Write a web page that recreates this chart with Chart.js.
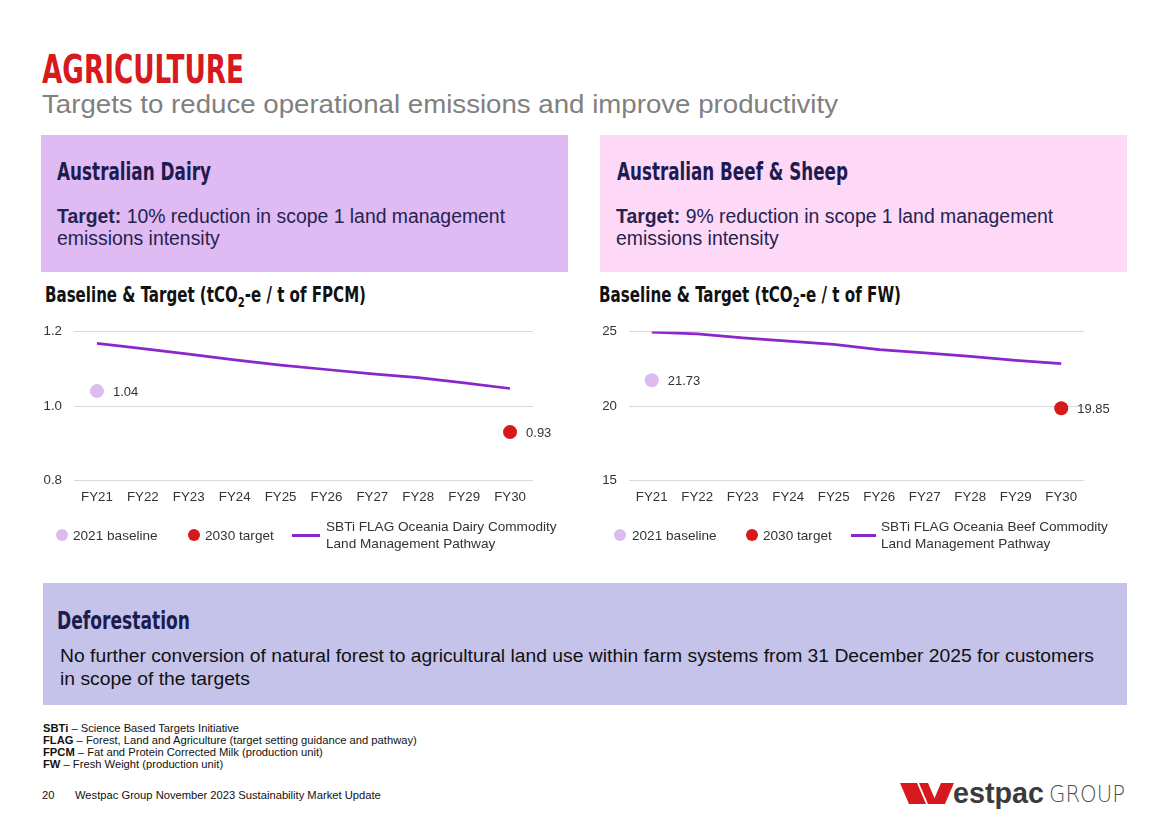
<!DOCTYPE html>
<html>
<head>
<meta charset="utf-8">
<script src="https://cdn.jsdelivr.net/npm/chart.js@4.4.1/dist/chart.umd.min.js"></script>
<style>
  html,body{margin:0;padding:0;background:#fff;}
  body{width:1168px;height:825px;position:relative;overflow:hidden;font-family:"Liberation Sans",Arial,sans-serif;}
  .abs{position:absolute;white-space:nowrap;}
  .cond{font-family:"Liberation Sans Narrow","DejaVu Sans Condensed","DejaVu Sans",sans-serif;font-weight:bold;line-height:1;display:inline-block;transform-origin:0 0;}
  .fit{display:inline-block;transform-origin:0 0;}
  .panel{position:absolute;}
  .tgt{font-size:19.4px;line-height:22px;color:#26234f;}
  .leg{position:absolute;font-size:13.6px;line-height:15px;color:#333;white-space:nowrap;}
  .dot{position:absolute;width:12px;height:12px;border-radius:50%;}
  .lline{position:absolute;height:3px;background:#8b26cc;}
  canvas{position:absolute;}
  .fn{font-size:11.2px;line-height:12px;color:#111;}
</style>
</head>
<body>
<script>
// ---------------- DATA ----------------
const categories = ['FY21','FY22','FY23','FY24','FY25','FY26','FY27','FY28','FY29','FY30'];

const dairyPathway  = [1.168, 1.154, 1.139, 1.124, 1.110, 1.098, 1.086, 1.076, 1.062, 1.047];
const dairyBaseline = [1.04, null, null, null, null, null, null, null, null, null];
const dairyTarget   = [null, null, null, null, null, null, null, null, null, 0.93];
const dairyYTicks   = [0.8, 1.0, 1.2];

const beefPathway  = [24.95, 24.84, 24.58, 24.36, 24.13, 23.78, 23.56, 23.33, 23.07, 22.84];
const beefBaseline = [21.73, null, null, null, null, null, null, null, null, null];
const beefTarget   = [null, null, null, null, null, null, null, null, null, 19.85];
const beefYTicks   = [15, 20, 25];

const seriesNames = ['2021 baseline', '2030 target'];
const dairyPathwayName = ['SBTi FLAG Oceania Dairy Commodity', 'Land Management Pathway'];
const beefPathwayName  = ['SBTi FLAG Oceania Beef Commodity', 'Land Management Pathway'];
</script>

<!-- Title -->
<div class="abs" style="left:42px;top:50px;"><span id="t1" class="cond" style="font-size:39px;color:#d71920;">AGRICULTURE</span></div>
<div class="abs" style="left:42px;top:92px;"><span id="t2" class="fit" style="font-size:25px;line-height:25px;color:#808080;">Targets to reduce operational emissions and improve productivity</span></div>

<!-- Panels -->
<div class="panel" style="left:41px;top:135px;width:527px;height:137px;background:#dfbaf3;"></div>
<div class="panel" style="left:600px;top:135px;width:527px;height:137px;background:#fdd8f7;"></div>

<div class="abs" style="left:57px;top:160px;"><span id="h1" class="cond" style="font-size:24px;color:#1e1b4f;">Australian Dairy</span></div>
<div class="abs" style="left:617px;top:160px;"><span id="h2" class="cond" style="font-size:24px;color:#1e1b4f;">Australian Beef &amp; Sheep</span></div>

<div class="abs tgt" style="left:57px;top:205px;"><b>Target:</b> 10% reduction in scope 1 land management<br>emissions intensity</div>
<div class="abs tgt" style="left:616px;top:205px;"><b>Target:</b> 9% reduction in scope 1 land management<br>emissions intensity</div>

<!-- Chart titles -->
<div class="abs" style="left:45px;top:285px;"><span id="c1" class="cond" style="font-size:21px;color:#111;">Baseline &amp; Target (tCO<span style="font-size:14px;position:relative;top:5px;">2</span>-e / t of FPCM)</span></div>
<div class="abs" style="left:599px;top:285px;"><span id="c2" class="cond" style="font-size:21px;color:#111;">Baseline &amp; Target (tCO<span style="font-size:14px;position:relative;top:5px;">2</span>-e / t of FW)</span></div>

<canvas id="chartDairy" width="540" height="220" style="left:30px;top:300px;width:540px;height:220px;"></canvas>
<canvas id="chartBeef" width="540" height="220" style="left:590px;top:300px;width:540px;height:220px;"></canvas>

<!-- Legends -->
<div id="legDairy"></div>
<div id="legBeef"></div>

<!-- Deforestation -->
<div class="panel" style="left:43px;top:583px;width:1084px;height:122px;background:#c5c3ea;"></div>
<div class="abs" style="left:57px;top:609px;"><span id="h3" class="cond" style="font-size:24px;color:#1e1b4f;">Deforestation</span></div>
<div class="abs" style="left:60px;top:647px;"><span id="d1" class="fit" style="font-size:18px;line-height:18px;color:#111;">No further conversion of natural forest to agricultural land use within farm systems from 31 December 2025 for customers</span></div>
<div class="abs" style="left:60px;top:670px;"><span id="d2" class="fit" style="font-size:18px;line-height:18px;color:#111;">in scope of the targets</span></div>

<!-- Footnotes -->
<div class="abs fn" style="left:43px;top:722px;">
<b>SBTi</b> – Science Based Targets Initiative<br>
<b>FLAG</b> – Forest, Land and Agriculture (target setting guidance and pathway)<br>
<b>FPCM</b> – Fat and Protein Corrected Milk (production unit)<br>
<b>FW</b> – Fresh Weight (production unit)
</div>
<div class="abs fn" style="left:42px;top:789px;">20</div>
<div class="abs fn" style="left:75px;top:789px;">Westpac Group November 2023 Sustainability Market Update</div>

<!-- Logo -->
<svg class="abs" style="left:900px;top:783px;" width="54" height="21" viewBox="0 0 54 21">
  <polygon points="0,0 17,0 26,21 9,21" fill="#d5191e"/>
  <polygon points="19,0 28,0 37,21 28,21" fill="#d5191e"/>
  <polygon points="41,0 54,0 45,21 32,21" fill="#d5191e"/>
</svg>
<div class="abs" style="left:953px;top:779px;"><span id="lg1" class="fit" style="font-size:29px;line-height:29px;font-weight:bold;color:#3b3b3b;">estpac</span></div>
<div class="abs" style="left:1049px;top:783px;"><span id="lg2" class="fit" style="font-size:23px;line-height:23px;color:#505050;font-family:'DejaVu Sans',sans-serif;font-weight:300;">GROUP</span></div>

<script>
function fitWidth(id, w){
  const el = document.getElementById(id);
  const cur = el.getBoundingClientRect().width;
  if (cur > 0) el.style.transform = 'scaleX(' + (w / cur) + ')';
}
fitWidth('t1', 202);
fitWidth('t2', 796);
fitWidth('h1', 154);
fitWidth('h2', 231);
fitWidth('h3', 133);
fitWidth('c1', 321);
fitWidth('c2', 302);
(function(){
  const el = document.getElementById('d1');
  const cur = el.getBoundingClientRect().width;
  const s = 1034 / cur;
  el.style.transform = 'scaleX(' + s + ')';
  document.getElementById('d2').style.transform = 'scaleX(' + s + ')';
})();
fitWidth('lg1', 91);
fitWidth('lg2', 76);

const PURPLE = '#8b26cc';
const LAVENDER = '#dcbcf0';
const RED = '#d7191c';

function buildLegend(id, pathwayName, pos){
  const c = document.getElementById(id);
  c.innerHTML =
    '<div class="dot" style="left:' + (pos[0]-6) + 'px;top:529px;background:' + LAVENDER + ';"></div>' +
    '<div class="leg" style="left:' + pos[1] + 'px;top:528px;">' + seriesNames[0] + '</div>' +
    '<div class="dot" style="left:' + (pos[2]-6) + 'px;top:529px;background:' + RED + ';"></div>' +
    '<div class="leg" style="left:' + pos[3] + 'px;top:528px;">' + seriesNames[1] + '</div>' +
    '<div class="lline" style="left:' + pos[4] + 'px;top:534px;width:' + pos[5] + 'px;"></div>' +
    '<div class="leg" style="left:' + pos[6] + 'px;top:518px;line-height:17px;">' + pathwayName[0] + '<br>' + pathwayName[1] + '</div>';
}
buildLegend('legDairy', dairyPathwayName, [62, 73, 194, 205, 292, 28, 326]);
buildLegend('legBeef', beefPathwayName, [620, 632, 752, 763, 851, 25, 881]);

const valueLabelPlugin = {
  id: 'valueLabels',
  afterDatasetsDraw(chart){
    const ctx = chart.ctx;
    ctx.save();
    ctx.font = '13px "Liberation Sans", Arial, sans-serif';
    ctx.fillStyle = '#333';
    ctx.textAlign = 'left';
    ctx.textBaseline = 'middle';
    chart.data.datasets.forEach((ds, i) => {
      if (!ds.valueLabels) return;
      const meta = chart.getDatasetMeta(i);
      meta.data.forEach((pt, j) => {
        const v = ds.data[j];
        if (v === null || v === undefined) return;
        ctx.fillText(v.toFixed(2), pt.x + 16, pt.y + 1);
      });
    });
    ctx.restore();
  }
};

function makeChart(canvasId, pathway, baseline, target, yTicks, decimals, yWidth, padRight){
  return new Chart(document.getElementById(canvasId), {
    type: 'line',
    data: {
      labels: categories,
      datasets: [
        { label: seriesNames[0], data: baseline, showLine: false, pointRadius: 7, pointHoverRadius: 7,
          pointBorderWidth: 0, backgroundColor: LAVENDER, borderColor: LAVENDER, valueLabels: true },
        { label: seriesNames[1], data: target, showLine: false, pointRadius: 7, pointHoverRadius: 7,
          pointBorderWidth: 0, backgroundColor: RED, borderColor: RED, valueLabels: true },
        { label: 'pathway', data: pathway, borderColor: PURPLE, backgroundColor: PURPLE, borderWidth: 2.75,
          pointRadius: 0, tension: 0, fill: false, borderCapStyle: 'butt' }
      ]
    },
    options: {
      responsive: false,
      animation: false,
      layout: { padding: { top: 31.5, right: padRight, left: 0, bottom: 0 } },
      plugins: { legend: { display: false }, tooltip: { enabled: false } },
      scales: {
        x: {
          offset: true,
          grid: { display: false, drawTicks: false },
          border: { display: false },
          ticks: { padding: 9, color: '#333', font: { family: '"Liberation Sans", Arial, sans-serif', size: 13.3 }, maxRotation: 0 },
          afterFit: s => { s.height = 39.5; }
        },
        y: {
          min: yTicks[0],
          max: yTicks[yTicks.length - 1],
          ticks: {
            stepSize: yTicks[1] - yTicks[0],
            padding: 12,
            color: '#333',
            font: { family: '"Liberation Sans", Arial, sans-serif', size: 13.3 },
            callback: v => Number(v).toFixed(decimals)
          },
          grid: { color: '#d9d9d9', drawTicks: false, lineWidth: 1 },
          border: { display: false },
          afterFit: s => { s.width = yWidth; }
        }
      }
    },
    plugins: [valueLabelPlugin]
  });
}

makeChart('chartDairy', dairyPathway, dairyBaseline, dairyTarget, dairyYTicks, 1, 44, 37);
makeChart('chartBeef', beefPathway, beefBaseline, beefTarget, beefYTicks, 0, 39, 46);
</script>
</body>
</html>
